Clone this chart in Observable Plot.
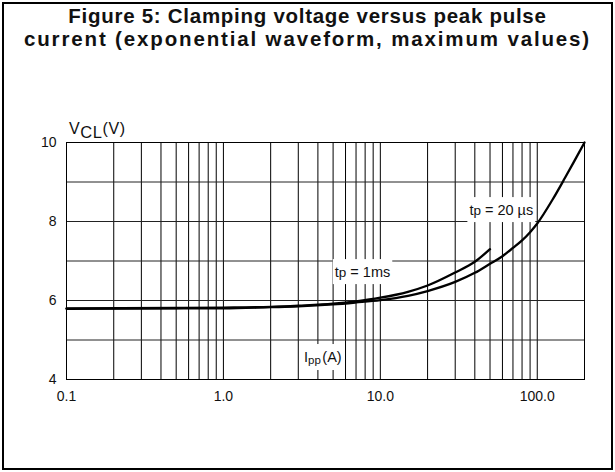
<!DOCTYPE html>
<html><head><meta charset="utf-8">
<script src="https://cdn.jsdelivr.net/npm/d3@7"></script>
<script src="https://cdn.jsdelivr.net/npm/@observablehq/plot@0.6"></script>
<style>
body{margin:0;background:#fff;}
#wrap{position:relative;width:615px;height:472px;overflow:hidden;font-family:"Liberation Sans",Arial,sans-serif;background:#fff;}
#box{position:absolute;left:2px;top:2px;width:607px;height:464px;border:2px solid #000;pointer-events:none;}
#title{height:60px;padding-top:4px;box-sizing:border-box;text-align:center;font-weight:bold;font-size:20.5px;line-height:23px;color:#111;white-space:nowrap;}
#t1{letter-spacing:0.72px;}
#t2{letter-spacing:1.85px;}
#chart svg{display:block;}
</style></head>
<body>
<div id="wrap">
<div id="title"><div id="t1">Figure 5: Clamping voltage versus peak pulse</div><div id="t2">current (exponential waveform, maximum values)</div></div>
<div id="chart"></div>
<div id="box"></div>
</div>
<script>
// ---- data ----
const xTicks = [0.1, 1, 10, 100];
const xTickLabels = ["0.1", "1.0", "10.0", "100.0"];
const xGrid = [0.2,0.3,0.4,0.5,0.6,0.7,0.8,0.9,1,2,3,4,5,6,7,8,9,10,20,30,40,50,60,70,80,90,100];
const yTicks = [4, 6, 8, 10];
const yGrid = [5, 6, 7, 8, 9];

const ms1_I = [0.1, 0.5, 1, 2, 3, 5, 7, 10, 15, 20, 30, 40, 50];
const ms1_V = [5.80, 5.81, 5.82, 5.84, 5.87, 5.92, 5.98, 6.07, 6.22, 6.38, 6.71, 6.98, 7.30];

const us20_I = [0.1, 0.5, 1, 2, 3, 5, 7, 10, 15, 20, 30, 40, 50, 60, 70, 80, 90, 100, 125, 150, 175, 200];
const us20_V = [5.79, 5.80, 5.80, 5.83, 5.85, 5.90, 5.95, 6.01, 6.12, 6.24, 6.47, 6.70, 6.93, 7.12, 7.33, 7.52, 7.73, 7.95, 8.55, 9.10, 9.58, 10.0];

const labelText = ["tp = 1ms", "tp = 20 µs", "Ipp(A)"];
const labelI = [7.7, 59, 4.3];
const labelV = [6.71, 8.28, 4.56];

const s1 = ms1_I.map((d, i) => ({I: d, V: ms1_V[i]}));
const s2 = us20_I.map((d, i) => ({I: d, V: us20_V[i]}));
const labels = labelText.map((t, i) => ({t, I: labelI[i], V: labelV[i]}));

const font = "'Liberation Sans', Arial, sans-serif";

const chart = Plot.plot({
  width: 615,
  height: 412,
  marginLeft: 66,
  marginRight: 31,
  marginTop: 82,
  marginBottom: 93,
  style: {fontFamily: font, background: "transparent", color: "#111"},
  x: {type: "log", domain: [0.1, 200]},
  y: {domain: [4, 10]},
  marks: [
    Plot.ruleX(xGrid, {stroke: "#000", strokeWidth: 1, strokeOpacity: 1}),
    Plot.ruleY(yGrid, {stroke: "#222", strokeWidth: 1}),
    Plot.frame({stroke: "#000", strokeWidth: 1}),
    Plot.text(labels, {x: "I", y: "V", text: "t", fontSize: 14.5, fill: "#111", textAnchor: "middle"}),
    Plot.line(s1, {x: "I", y: "V", stroke: "#000", strokeWidth: 2.3, curve: "monotone-x"}),
    Plot.line(s2, {x: "I", y: "V", stroke: "#000", strokeWidth: 2.3, curve: "monotone-x"}),
    Plot.axisX(xTicks, {tickSize: 0, tickPadding: 12, fontSize: 14, label: null,
      tickFormat: (d) => xTickLabels[xTicks.indexOf(d)]}),
    Plot.axisY(yTicks, {tickSize: 0, tickPadding: 10, fontSize: 14, label: null})
  ]
});
document.getElementById("chart").appendChild(chart);

const svg = d3.select(chart);
// white boxes behind the in-plot labels
svg.selectAll("text").each(function () {
  const txt = this.textContent;
  if (!labelText.includes(txt)) return;
  const sel = d3.select(this);
  if (txt === "Ipp(A)") {
    sel.text("I");
    sel.append("tspan").attr("font-size", 11.5).attr("dy", 2).text("pp");
    sel.append("tspan").attr("dy", -2).attr("dx", 1.5).text("(A)");
  } else if (txt.startsWith("tp")) {
    const rest = txt.slice(2);
    sel.text("t");
    sel.append("tspan").attr("font-size", 13.5).text("p");
    sel.append("tspan").text(rest);
  }
  const bb = this.getBBox();
  const r = document.createElementNS("http://www.w3.org/2000/svg", "rect");
  r.setAttribute("x", bb.x - 2);
  r.setAttribute("y", bb.y - 5);
  r.setAttribute("width", bb.width + 4);
  r.setAttribute("height", bb.height + 9);
  r.setAttribute("fill", "#fff");
  if (this.getAttribute("transform")) r.setAttribute("transform", this.getAttribute("transform"));
  this.parentNode.insertBefore(r, this);
});

// y-axis unit label V_CL(V)
const yl = svg.append("text").attr("x", 69).attr("y", 74).attr("font-size", 16).attr("fill", "#111")
  .attr("text-anchor", "start").attr("letter-spacing", 0.6).attr("font-family", font);
yl.append("tspan").text("V");
yl.append("tspan").attr("dy", 3.5).attr("font-size", 16.5).text("CL");
yl.append("tspan").attr("dy", -3.5).text("(V)");
</script>
</body></html>
